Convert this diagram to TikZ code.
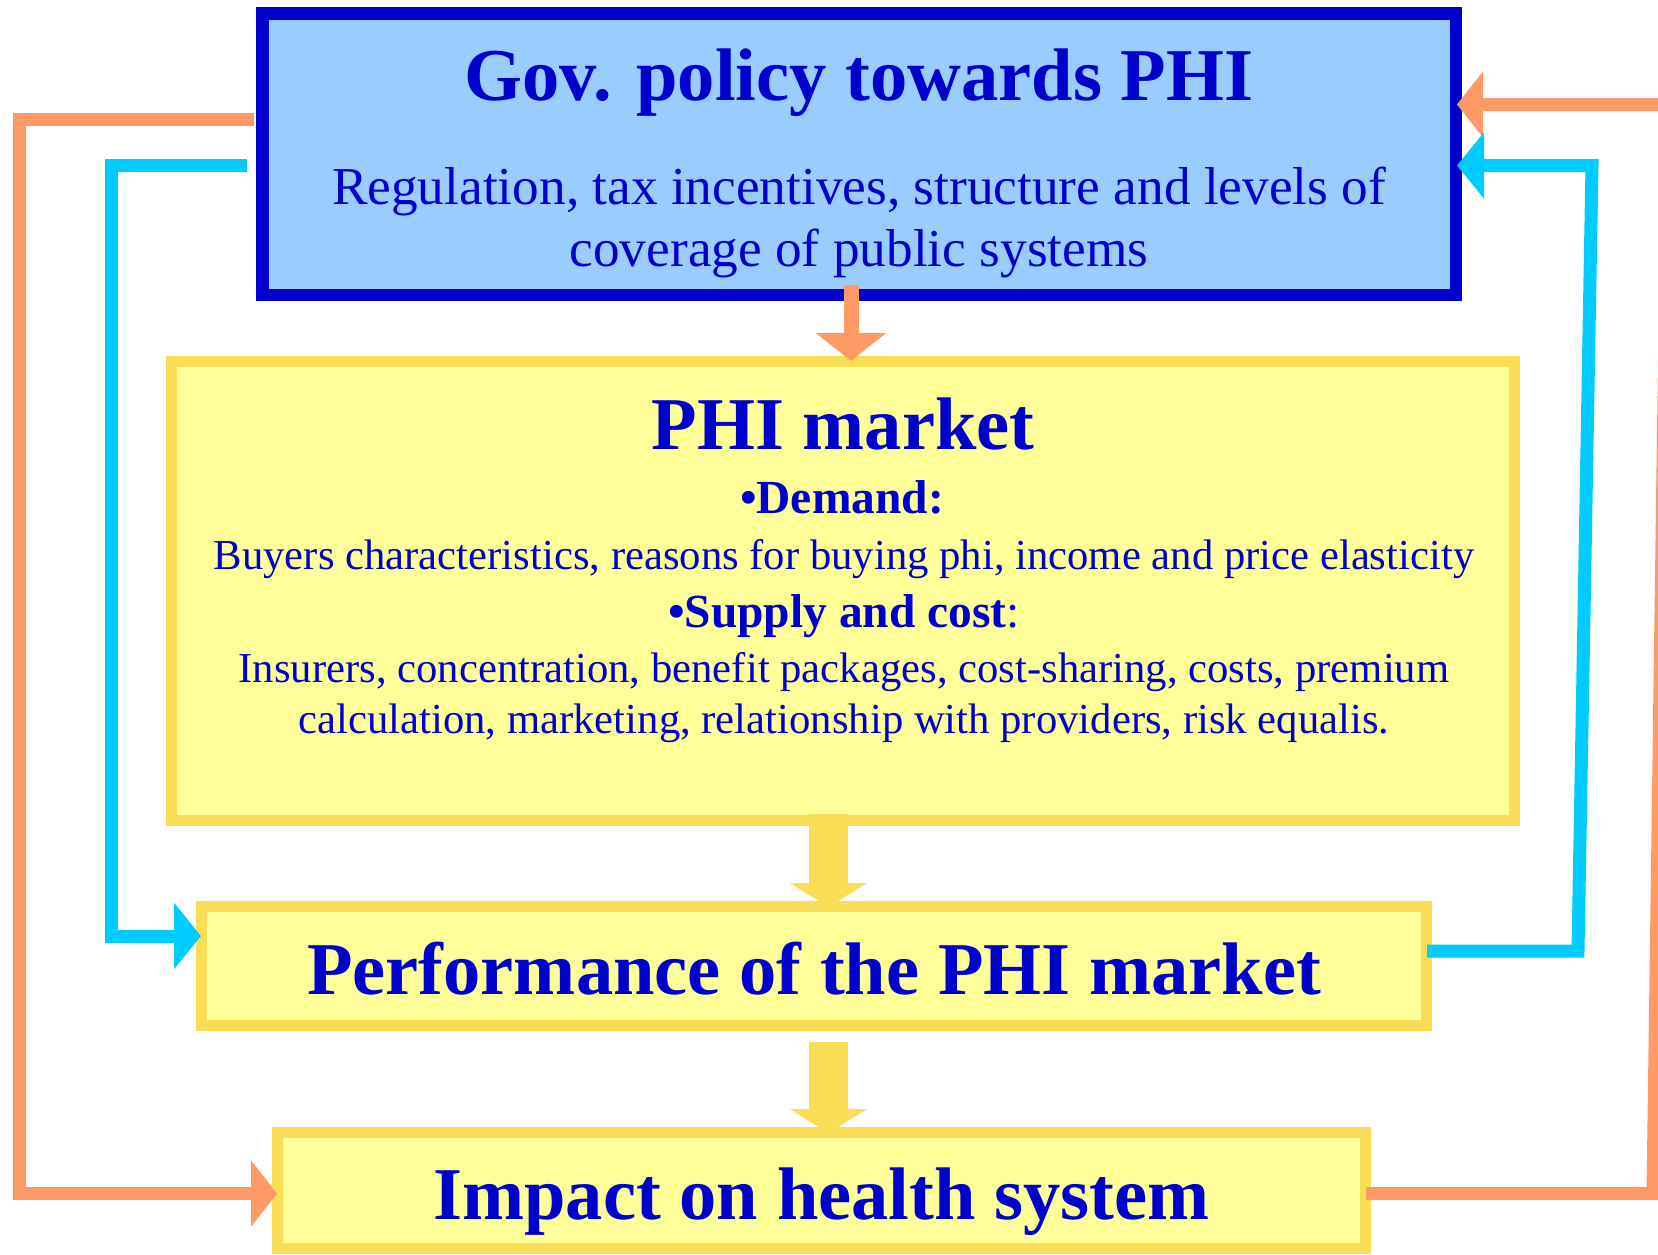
\documentclass[tikz,border=0pt]{standalone}
\usepackage{fontspec}
\setmainfont{Liberation Serif}
\usetikzlibrary{arrows.meta,calc}

\definecolor{govfill}{HTML}{99CCFF}
\definecolor{govline}{HTML}{0000CC}
\definecolor{boxfill}{HTML}{FFFF99}
\definecolor{boxline}{HTML}{F9DD55}
\definecolor{orangec}{HTML}{FF9966}
\definecolor{cyanc}{HTML}{00CCFF}
\definecolor{textblue}{HTML}{0000CC}

\tikzset{
  govbox/.style={draw=govline, fill=govfill, line width=12.5pt, inner sep=0pt},
  mktbox/.style={draw=boxline, fill=boxfill, line width=11pt, inner sep=0pt},
  label/.style={anchor=base, inner sep=0pt, text=textblue, align=center},
  bigtitle/.style={label, font=\fontsize{74.5pt}{80pt}\selectfont\bfseries},
  subtext/.style={label, font=\fontsize{53.3pt}{60pt}\selectfont},
  bodytext/.style={label, font=\fontsize{42.7pt}{48pt}\selectfont},
  headtext/.style={label, font=\fontsize{47.5pt}{52pt}\selectfont},
  link/.style={line width=13pt, line join=miter, line cap=butt},
  orangelink/.style={link, draw=orangec, -{Triangle[length=26pt,width=65pt]}},
  cyanlink/.style={link, draw=cyanc, -{Triangle[length=27pt,width=65pt]}},
  downorange/.style={draw=orangec, line width=15pt, -{Triangle[length=28pt,width=69pt]}},
  downyellow/.style={draw=boxline, line width=39pt, -{Triangle[length=24pt,width=76pt]}}
}

\begin{document}
\begin{tikzpicture}[x=1pt, y=-1pt]
\useasboundingbox (0,0) rectangle (1658,1254);
\clip (0,0) rectangle (1658,1254);

% boxes
\node[govbox, minimum width=1193.5pt, minimum height=281.5pt] (gov) at (859,154) {};
\node[mktbox, minimum width=1343pt, minimum height=459pt] (market) at (843,591) {};
\node[mktbox, minimum width=1225pt, minimum height=119pt] (perf) at (814,966) {};
\node[mktbox, minimum width=1088pt, minimum height=116pt] (impact) at (821.5,1190.5) {};

% texts
\node[bigtitle] (govtitle) at (859,100) {Gov. policy towards PHI};
\node[subtext] (govsub1) at (859,204) {Regulation, tax incentives, structure and levels of};
\node[subtext] (govsub2) at (859,266.5) {coverage of public systems};

\node[bigtitle] (mkttitle) at (843,449) {PHI market};
\node[headtext] (demand) at (842,513) {\bfseries •Demand:};
\node[bodytext] (demandtxt) at (844,569) {Buyers characteristics, reasons for buying phi, income and price elasticity};
\node[headtext] (supply) at (844,627) {\bfseries •Supply and cost\mdseries:};
\node[bodytext] (supplytxt1) at (844,682) {Insurers, concentration, benefit packages, cost-sharing, costs, premium};
\node[bodytext] (supplytxt2) at (844,733) {calculation, marketing, relationship with providers, risk equalis.};

\node[bigtitle] (perftitle) at (814,994) {Performance of the PHI market};
\node[bigtitle] (impacttitle) at (821.5,1219) {Impact on health system};

% bends of the feedback loops
\coordinate (oTopL) at (19.5,119.5);
\coordinate (oBotL) at (19.5,1193.5);
\coordinate (oBotR) at (1653,1193.5);
\coordinate (oTopR) at (1668,104.5);
\coordinate (cTopL) at (111,165);
\coordinate (cBotL) at (111,936);
\coordinate (cBotR) at (1578,951);
\coordinate (cTopR) at (1592,165.5);

% vertical flow
\draw[downorange] ($(gov.south)+(-8,-16)$) -- ($(market.north)+(8,5)$);
\draw[downyellow] ($(market.south)+(-14.5,-12)$) -- ($(perf.north)+(14.5,6)$);
\draw[downyellow] ($(perf.south)+(14.5,11)$) -- ($(impact.north)+(7,6)$);

% feedback loops
\draw[orangelink] ($(gov.west |- oTopL)+(-2,0)$) -- (oTopL) -- (oBotL) -- ($(impact.west |- oBotL)+(5,0)$);
\draw[orangelink] ($(impact.east |- oBotR)+(-5,0)$) -- (oBotR) -- (oTopR) -- ($(gov.east |- oTopR)+(-5,0)$);
\draw[cyanlink] ($(gov.west |- cTopL)+(-9,0)$) -- (cTopL) -- (cBotL) -- ($(perf.west |- cBotL)+(5,0)$);
\draw[cyanlink] ($(perf.east |- cBotR)+(-5,0)$) -- (cBotR) -- (cTopR) -- ($(gov.east |- cTopR)+(-5,0)$);
\end{tikzpicture}
\end{document}
